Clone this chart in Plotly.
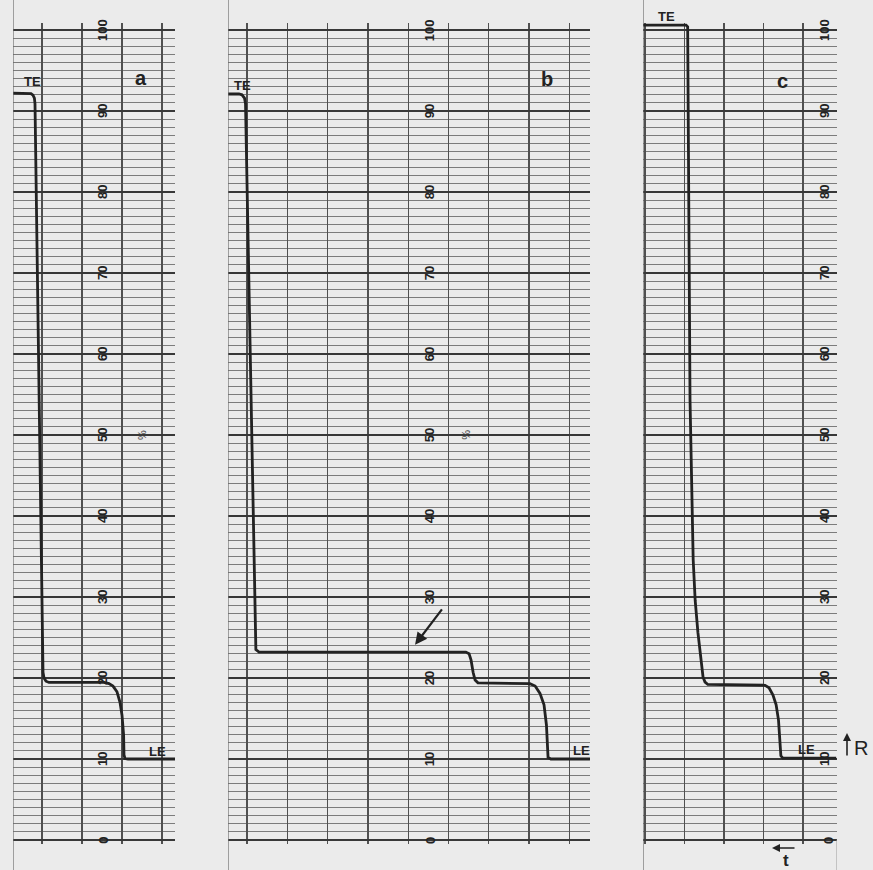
import plotly.graph_objects as go

# ---------------- data (read from the recorder strips) ----------------
# time axis in chart divisions, R in % of full scale
a_t = [-0.725, -0.35, -0.275, -0.225, -0.19, -0.175, 0.025, 0.05, 0.1, 0.175,
       1.55, 1.675, 1.775, 1.875, 1.95, 2.0, 2.04, 2.05, 2.075, 2.15, 3.325]
a_r = [92.2, 92.2, 92.15, 91.95, 91.6, 90.9, 20.7, 20.0, 19.6, 19.45,
       19.45, 19.3, 19.0, 18.3, 17.0, 15.4, 13.0, 10.5, 10.05, 10.0, 10.0]

b_t = [-0.471, -0.2, -0.124, -0.062, -0.037, 0.2, 0.22, 0.3,
       5.43, 5.51, 5.56, 5.61, 5.66, 5.73,
       7.02, 7.15, 7.27, 7.37, 7.43, 7.47, 7.54, 8.51]
b_r = [92.1, 92.1, 92.0, 91.6, 90.9, 24.2, 23.5, 23.2,
       23.2, 23.0, 22.2, 20.7, 19.75, 19.4,
       19.3, 19.0, 18.1, 16.7, 14.2, 10.2, 10.0, 10.0]

c_t = [-0.05, 1.04, 1.08, 1.09, 1.14, 1.22, 1.27, 1.34, 1.42, 1.47, 1.52, 1.59,
       3.04, 3.14, 3.24, 3.32, 3.38, 3.42, 3.44, 3.49, 4.84]
c_r = [100.6, 100.6, 100.4, 91.4, 54.3, 34.6, 29.6, 25.6, 22.2, 20.1, 19.5, 19.2,
       19.1, 18.8, 17.9, 16.7, 14.8, 12.3, 10.4, 10.1, 10.1]

scale_values = [0, 10, 20, 30, 40, 50, 60, 70, 80, 90, 100]
scale_labels = ["0", "10", "20", "30", "40", "50", "60", "70", "80", "90", "100"]
panel_names = ["a", "b", "c"]

# ---------------- layout constants ----------------
W, H = 873, 870
Y_RANGE = [-0.5, 100.9]
Y_DOMAIN = [(H - 844.05) / H, (H - 22.71) / H]
panels = {
    "a": dict(dom=[13 / W, 175 / W], rng=[-0.725, 3.325], lab_x=1.5, zero_x=1.52,
              name_xy=(2.475, 94.1), te_xy=(-0.25, 93.6), le_xy=(2.875, 10.9), pct_xy=(2.5, 50)),
    "b": dict(dom=[228 / W, 590 / W], rng=[-0.4715, 8.511], lab_x=4.52, zero_x=4.54,
              name_xy=(7.44, 94.0), te_xy=(-0.1, 93.1), le_xy=(8.31, 11.0), pct_xy=(5.43, 50)),
    "c": dict(dom=[643 / W, 837 / W], rng=[-0.0506, 4.861], lab_x=4.53, zero_x=4.63,
              name_xy=(3.47, 93.7), te_xy=None, le_xy=(4.1, 11.2), pct_xy=None),
}

PAPER = "#ebebeb"
INK = "#222222"
MINOR = "#7c7c7c"
MAJOR = "#383838"
VGRID = "#505050"
FONT = "Liberation Sans"

fig = go.Figure()
series = {"a": (a_t, a_r), "b": (b_t, b_r), "c": (c_t, c_r)}
annotations = []
shapes = []

for i, name in enumerate(panel_names):
    p = panels[name]
    sfx = "" if i == 0 else str(i + 1)
    xa, ya = "x" + sfx, "y" + sfx
    t, r = series[name]
    fig.add_trace(go.Scatter(x=t, y=r, mode="lines", xaxis=xa, yaxis=ya,
                             line=dict(color=INK, width=2.8), hoverinfo="skip",
                             showlegend=False))
    fig.layout["xaxis" + sfx] = dict(
        domain=p["dom"], range=p["rng"], anchor=ya, showticklabels=False,
        showgrid=True, gridcolor=VGRID, gridwidth=1.3, dtick=1, tick0=0,
        zeroline=False, showline=False, ticks="", fixedrange=True)
    fig.layout["yaxis" + sfx] = dict(
        domain=Y_DOMAIN, range=Y_RANGE, anchor=xa, showticklabels=False,
        showgrid=True, gridcolor=MAJOR, gridwidth=1.5, dtick=10, tick0=0,
        minor=dict(dtick=1, tick0=0, showgrid=True, gridcolor=MINOR, gridwidth=1.1),
        zeroline=False, showline=False, ticks="", fixedrange=True)

    # strip edge (full height)
    shapes.append(dict(type="line", xref=xa, yref="paper", x0=p["rng"][0], x1=p["rng"][0],
                       y0=0, y1=1, line=dict(color="#6a6a6a", width=1.2)))

    # rotated scale labels
    for v, lab in zip(scale_values, scale_labels):
        xpos = p["zero_x"] if v == 0 else p["lab_x"]
        annotations.append(dict(xref=xa, yref=ya, x=xpos, y=v, text="<b>%s</b>" % lab,
                                showarrow=False, textangle=-90,
                                xanchor="center", yanchor="middle",
                                font=dict(family=FONT, size=13, color=INK)))
    nx, ny = p["name_xy"]
    annotations.append(dict(xref=xa, yref=ya, x=nx, y=ny, text="<b>%s</b>" % name,
                            showarrow=False, xanchor="center", yanchor="middle",
                            font=dict(family=FONT, size=20, color=INK)))
    if p["te_xy"] is not None:
        tx, ty = p["te_xy"]
        annotations.append(dict(xref=xa, yref=ya, x=tx, y=ty, text="<b>TE</b>", showarrow=False,
                                xanchor="center", yanchor="middle",
                                font=dict(family=FONT, size=13, color=INK)))
    lx, ly = p["le_xy"]
    annotations.append(dict(xref=xa, yref=ya, x=lx, y=ly, text="<b>LE</b>", showarrow=False,
                            xanchor="center", yanchor="middle",
                            font=dict(family=FONT, size=13, color=INK)))
    if p["pct_xy"] is not None:
        px_, py_ = p["pct_xy"]
        annotations.append(dict(xref=xa, yref=ya, x=px_, y=py_, text="%", showarrow=False,
                                textangle=-90, xanchor="center", yanchor="middle",
                                font=dict(family=FONT, size=11, color="#444")))

# TE label of strip c sits above the chart area
annotations.append(dict(xref="paper", yref="paper", x=666 / W, y=(H - 16) / H, text="<b>TE</b>",
                        showarrow=False, xanchor="center", yanchor="middle",
                        font=dict(family=FONT, size=13, color=INK)))

# right edge of strip c
shapes.append(dict(type="line", xref="x3", yref="paper", x0=panels["c"]["rng"][1],
                   x1=panels["c"]["rng"][1], y0=0, y1=Y_DOMAIN[0] + 0.005,
                   line=dict(color="#9a9a9a", width=1)))

# arrow in b
annotations.append(dict(xref="x2", yref="y2", x=4.17, y=24.1, ax=28, ay=-37, text="",
                        showarrow=True, arrowhead=2, arrowsize=1.1, arrowwidth=2.2,
                        arrowcolor=INK))
# R arrow and label
annotations.append(dict(xref="paper", yref="paper", x=847 / W, y=(H - 733) / H,
                        ax=0, ay=24, text="", showarrow=True, arrowhead=2, arrowsize=1,
                        arrowwidth=1.6, arrowcolor=INK))
annotations.append(dict(xref="paper", yref="paper", x=861 / W, y=(H - 748) / H, text="R",
                        showarrow=False, xanchor="center", yanchor="middle",
                        font=dict(family=FONT, size=20, color=INK)))
# t arrow and label
annotations.append(dict(xref="paper", yref="paper", x=772 / W, y=(H - 848) / H,
                        ax=24, ay=0, text="", showarrow=True, arrowhead=2, arrowsize=1,
                        arrowwidth=1.6, arrowcolor=INK))
annotations.append(dict(xref="paper", yref="paper", x=786 / W, y=(H - 860) / H, text="<b>t</b>",
                        showarrow=False, xanchor="center", yanchor="middle",
                        font=dict(family=FONT, size=17, color=INK)))

fig.update_layout(width=W, height=H, margin=dict(l=0, r=0, t=0, b=0),
                  paper_bgcolor=PAPER, plot_bgcolor=PAPER, showlegend=False,
                  annotations=annotations, shapes=shapes)

fig.write_html("out.html", config={"displayModeBar": False, "staticPlot": True},
               post_script="document.body.style.margin='0';document.body.style.padding='0';"
                           "document.body.style.overflow='hidden';")
